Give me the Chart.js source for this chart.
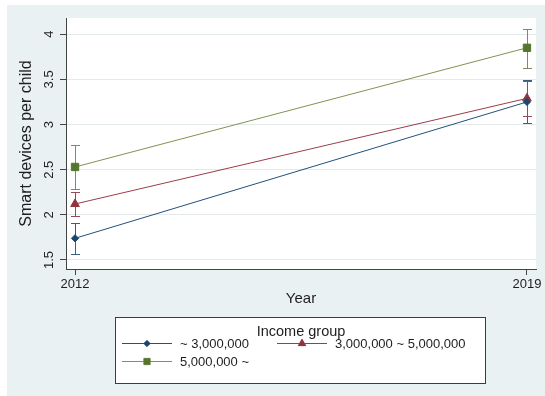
<!DOCTYPE html>
<html>
<head>
<meta charset="utf-8">
<title>Smart devices per child by income group</title>
<script src="https://cdn.jsdelivr.net/npm/chart.js@4/dist/chart.umd.min.js"></script>
<style>
  html, body { margin: 0; padding: 0; background: #ffffff; }
  #wrap { width: 545px; height: 396px; }
</style>
</head>
<body>
<div id="wrap"><canvas id="c" width="545" height="396"></canvas></div>
<script>
// Survey years on the x axis
const years = [2012, 2019];
const xTickValues = [2012, 2019];
const yTickValues = [1.5, 2, 2.5, 3, 3.5, 4];

// Income groups
const groupNames = ['~ 3,000,000', '3,000,000 ~ 5,000,000', '5,000,000 ~'];

// Mean smart devices per child
const lowIncome  = [1.74, 3.25];
const midIncome  = [2.12, 3.29];
const highIncome = [2.53, 3.85];

// 95% confidence intervals (lower, upper)
const lowIncomeLo  = [1.57, 3.02];
const lowIncomeHi  = [1.91, 3.49];
const midIncomeLo  = [1.99, 3.09];
const midIncomeHi  = [2.25, 3.48];
const highIncomeLo = [2.29, 3.63];
const highIncomeHi = [2.77, 4.06];

const FONT = '"Liberation Sans", Arial, sans-serif';
const TEXT = '#1e1e1e';
const AXIS = '#444444';

const styles = [
  { line: '#24507a', marker: '#1a476f', ci: '#3a5d80', shape: 'rectRot', r: 3.6 },
  { line: '#9c3d4a', marker: '#90353b', ci: '#9a4a55', shape: 'triangle', r: 5 },
  { line: '#849250', marker: '#55752f', ci: '#7d8a62', shape: 'rect', r: 5.2 }
];
const means = [lowIncome, midIncome, highIncome];
const ciLo = [lowIncomeLo, midIncomeLo, highIncomeLo];
const ciHi = [lowIncomeHi, midIncomeHi, highIncomeHi];

const datasets = means.map((vals, i) => ({
  label: groupNames[i],
  data: years.map((yr, j) => ({ x: yr, y: vals[j] })),
  borderColor: styles[i].line,
  backgroundColor: styles[i].marker,
  borderWidth: 1,
  pointStyle: styles[i].shape,
  pointRadius: styles[i].r,
  pointBorderColor: styles[i].marker,
  pointBackgroundColor: styles[i].marker,
  pointBorderWidth: 1,
  tension: 0
}));

// Graph region background and plot-area fill
const backdrop = {
  id: 'backdrop',
  beforeDraw(chart) {
    const { ctx, chartArea: a } = chart;
    ctx.save();
    ctx.fillStyle = '#ffffff';
    ctx.fillRect(0, 0, chart.width, chart.height);
    ctx.fillStyle = '#eaf1f3';
    ctx.fillRect(7, 5, chart.width - 7, chart.height - 5);
    ctx.fillStyle = '#ffffff';
    ctx.fillRect(a.left, a.top, a.right - a.left, a.bottom - a.top);
    ctx.restore();
  }
};

// Confidence-interval caps, drawn under the connected lines
const ciCaps = {
  id: 'ciCaps',
  beforeDatasetsDraw(chart) {
    const { ctx, scales: { x, y } } = chart;
    ctx.save();
    ctx.lineWidth = 1;
    ciLo.forEach((lo, i) => {
      ctx.strokeStyle = styles[i].ci;
      years.forEach((yr, j) => {
        const px = Math.round(x.getPixelForValue(yr)) + 0.5;
        const y0 = Math.round(y.getPixelForValue(lo[j])) + 0.5;
        const y1 = Math.round(y.getPixelForValue(ciHi[i][j])) + 0.5;
        ctx.beginPath();
        ctx.moveTo(px, y0); ctx.lineTo(px, y1);
        ctx.moveTo(px - 4.5, y0); ctx.lineTo(px + 4.5, y0);
        ctx.moveTo(px - 4.5, y1); ctx.lineTo(px + 4.5, y1);
        ctx.stroke();
      });
    });
    ctx.restore();
  }
};

// Vertical y tick labels
const yLabels = {
  id: 'yLabels',
  afterDraw(chart) {
    const { ctx, scales: { y } } = chart;
    ctx.save();
    ctx.fillStyle = TEXT;
    ctx.font = '13px ' + FONT;
    ctx.textAlign = 'center';
    ctx.textBaseline = 'middle';
    y.ticks.forEach(t => {
      const py = y.getPixelForValue(t.value);
      ctx.save();
      ctx.translate(49, py);
      ctx.rotate(-Math.PI / 2);
      ctx.fillText(String(t.value), 0, 0);
      ctx.restore();
    });
    ctx.restore();
  }
};

// Boxed legend with title below the plot
const boxLegend = {
  id: 'boxLegend',
  afterDraw(chart) {
    const { ctx } = chart;
    const bx = 115.5, by = 317.5, bw = 370, bh = 66;
    ctx.save();
    ctx.fillStyle = '#ffffff';
    ctx.fillRect(bx, by, bw, bh);
    ctx.strokeStyle = '#3c3c3c';
    ctx.lineWidth = 1;
    ctx.strokeRect(bx, by, bw, bh);

    ctx.fillStyle = TEXT;
    ctx.font = '14.5px ' + FONT;
    ctx.textAlign = 'center';
    ctx.textBaseline = 'middle';
    ctx.fillText('Income group', 301, 332);

    const slots = [
      { x: 122, y: 343.5 },
      { x: 277, y: 343.5 },
      { x: 122, y: 361.5 }
    ];
    ctx.font = '13px ' + FONT;
    ctx.textAlign = 'left';
    groupNames.forEach((name, i) => {
      const s = slots[i];
      const st = styles[i];
      ctx.strokeStyle = st.line;
      ctx.beginPath();
      ctx.moveTo(s.x, s.y); ctx.lineTo(s.x + 50, s.y);
      ctx.stroke();
      Chart.helpers.drawPoint(ctx, {
        pointStyle: st.shape, radius: st.r * 0.85, borderWidth: 1, rotation: 0
      }, s.x + 25, s.y);
      ctx.fillStyle = st.marker;
      ctx.strokeStyle = st.marker;
      ctx.fill();
      ctx.fillStyle = TEXT;
      ctx.fillText(name, s.x + 58, s.y + 0.5);
    });
    ctx.restore();
  }
};

new Chart(document.getElementById('c'), {
  type: 'line',
  data: { datasets },
  plugins: [backdrop, ciCaps, yLabels, boxLegend],
  options: {
    responsive: false,
    devicePixelRatio: 1,
    animation: false,
    layout: { padding: { top: 18, right: 9, bottom: 88, left: 0 } },
    plugins: {
      legend: { display: false },
      tooltip: { enabled: false }
    },
    scales: {
      x: {
        type: 'linear',
        min: 2011.86,
        max: 2019.14,
        afterBuildTicks(scale) { scale.ticks = xTickValues.map(v => ({ value: v })); },
        afterFit(scale) { scale.height = 39; },
        grid: { drawOnChartArea: false, tickLength: 6, tickColor: AXIS },
        border: { color: AXIS, width: 1 },
        ticks: {
          color: TEXT,
          font: { family: FONT, size: 13 },
          padding: 2,
          maxRotation: 0,
          callback: v => String(v)
        },
        title: {
          display: true,
          text: 'Year',
          color: TEXT,
          font: { family: FONT, size: 15 },
          padding: { top: 0, bottom: 0 }
        }
      },
      y: {
        min: 1.4,
        max: 4.18,
        afterBuildTicks(scale) { scale.ticks = yTickValues.map(v => ({ value: v })); },
        afterFit(scale) { scale.width = 66; },
        grid: { color: '#e4eaec', lineWidth: 1, tickLength: 6, tickColor: AXIS },
        border: { color: AXIS, width: 1 },
        ticks: { display: false },
        title: {
          display: true,
          text: 'Smart devices per child',
          color: TEXT,
          font: { family: FONT, size: 16 },
          padding: { top: 17, bottom: 0 }
        }
      }
    }
  }
});
</script>
</body>
</html>
